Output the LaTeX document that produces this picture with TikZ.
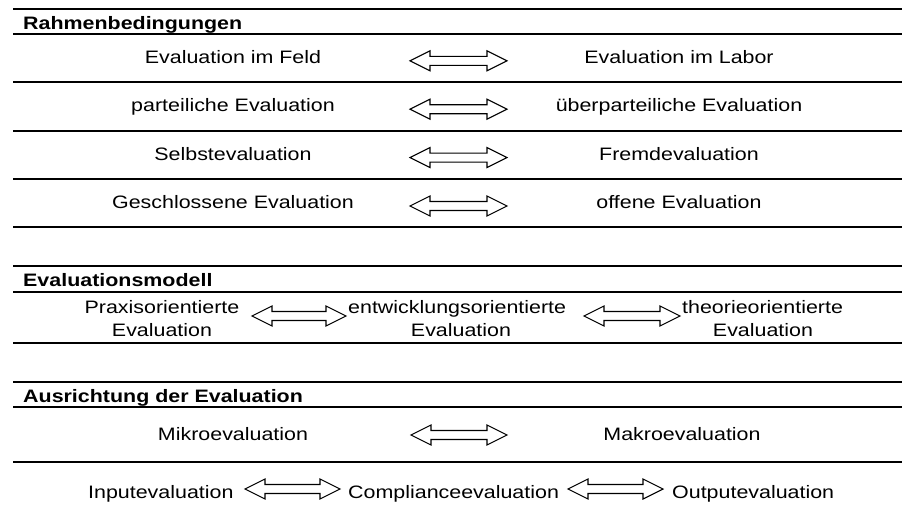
\documentclass[tikz,border=0pt]{standalone}
\usepackage{fontspec}
\setmainfont{Liberation Sans}[FakeStretch=1.19]
\usetikzlibrary{calc}
\newcommand\dblarrow[2]{%
  \draw[arr] (#1) -- ($(#1)+(20,10)$) -- ($(#1)+(20,4.5)$) -- ($(#2)+(-20,4.5)$)
    -- ($(#2)+(-20,10)$) -- (#2) -- ($(#2)+(-20,-10)$) -- ($(#2)+(-20,-4.5)$)
    -- ($(#1)+(20,-4.5)$) -- ($(#1)+(20,-10)$) -- cycle;}
\begin{document}
\begin{tikzpicture}[x=1pt,y=-1pt,
  rule/.style={line width=2pt},
  txt/.style={inner sep=0pt, anchor=base, font=\fontsize{18}{23.5}\selectfont},
  txtw/.style={txt, anchor=base west},
  hd/.style={inner sep=0pt, anchor=base west, font=\fontsize{18}{23.5}\selectfont\bfseries},
  arr/.style={line width=1.1pt, line join=miter, fill=white}]
\useasboundingbox (0,0) rectangle (903,520);
% rules
\foreach \yy in {9,34,82,131,179,227,266,292,343,382,407,462}
  \draw[rule] (13,\yy) -- (902,\yy);
% Section 1
\node[hd] (h1) at (23,29.3) {Rahmenbedingungen};
\node[txt] (l1) at (233,63.3) {Evaluation im Feld};
\node[txt] (r1) at (679,63.3) {Evaluation im Labor};
\node[txt] (l2) at (233,111.7) {parteiliche Evaluation};
\node[txt] (r2) at (679,111.7) {überparteiliche Evaluation};
\node[txt] (l3) at (233,160.1) {Selbstevaluation};
\node[txt] (r3) at (679,160.1) {Fremdevaluation};
\node[txt] (l4) at (233,208.5) {Geschlossene Evaluation};
\node[txt] (r4) at (679,208.5) {offene Evaluation};
\foreach \i/\yy in {1/60.8,2/109.2,3/157.6,4/206}{
  \coordinate (a\i l) at (410,\yy);
  \coordinate (a\i r) at (507,\yy);
}
\dblarrow{a1l}{a1r}
\dblarrow{a2l}{a2r}
\dblarrow{a3l}{a3r}
\dblarrow{a4l}{a4r}
% Section 2
\node[hd] (h2) at (23,286.8) {Evaluationsmodell};
\node[txt] (p1) at (162,313) {Praxisorientierte};
\node[txt] (p2) at (162,336.7) {Evaluation};
\node[txtw] (e1) at (348,313) {entwicklungsorientierte};
\node[txt] (e2) at (461,336.7) {Evaluation};
\node[txtw] (t1) at (682,313) {theorieorientierte};
\node[txt] (t2) at (763,336.7) {Evaluation};
\coordinate (b1l) at (252,316);
\coordinate (b1r) at (346,316);
\coordinate (b2l) at (584,316);
\coordinate (b2r) at (680,316);
\dblarrow{b1l}{b1r}
\dblarrow{b2l}{b2r}
% Section 3
\node[hd] (h3) at (23,402.3) {Ausrichtung der Evaluation};
\node[txt] (m1) at (233,440.5) {Mikroevaluation};
\node[txt] (m2) at (682,440.5) {Makroevaluation};
\coordinate (c1l) at (411,435);
\coordinate (c1r) at (507,435);
\dblarrow{c1l}{c1r}
\node[txtw] (i1) at (88,498) {Inputevaluation};
\node[txtw] (i2) at (348,498) {Complianceevaluation};
\node[txtw] (i3) at (672,498) {Outputevaluation};
\coordinate (d1l) at (245,489);
\coordinate (d1r) at (340,489);
\coordinate (d2l) at (568,489);
\coordinate (d2r) at (663,489);
\dblarrow{d1l}{d1r}
\dblarrow{d2l}{d2r}
\end{tikzpicture}
\end{document}
